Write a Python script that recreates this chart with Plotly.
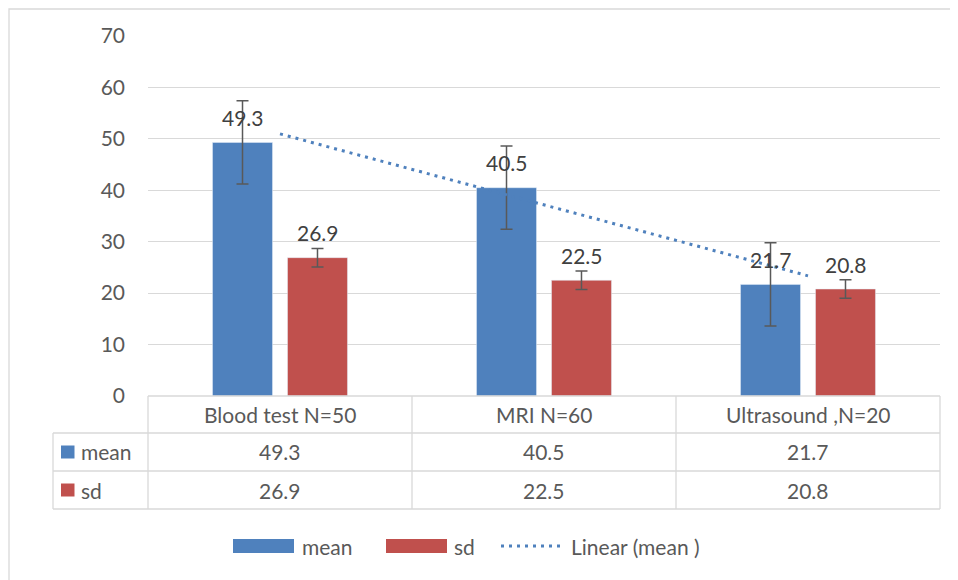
import numpy as np
import plotly.graph_objects as go

categories = ["Blood test N=50", "MRI N=60", "Ultrasound ,N=20"]
mean_vals = [49.3, 40.5, 21.7]
sd_vals = [26.9, 22.5, 20.8]
mean_err = [8.1, 8.1, 8.1]
sd_err = [1.8, 1.8, 1.8]
series_names = ["mean", "sd"]
trend_name = "Linear (mean )"
y_ticks = [0, 10, 20, 30, 40, 50, 60, 70]

BLUE = "#4F81BD"
RED = "#C0504D"
GRID = "#D9D9D9"
TXT = "#595959"
LBL = "#404040"
FONT = "Lato"
FS = 21

# the page has an 8px body margin; lay out in screen pixels and compensate
OFF = 8
W, H = 958 - OFF, 580 - OFF
SL, SR, ST, SB = 148, 940, 36, 396      # plot area in screen pixels
L, T = SL - OFF, ST - OFF
R = W - (SR - OFF)
B = H - (SB - OFF)
PW, PH = SR - SL, SB - ST


def X(p):
    return (p - SL) / PW


def Y(p):
    return (SB - p) / PH


# linear trendline of mean series (least squares, like Excel)
xi = np.arange(1, len(mean_vals) + 1)
coef = np.polyfit(xi, mean_vals, 1)
trend = list(np.polyval(coef, xi))

fig = go.Figure()
fig.add_trace(go.Bar(
    x=categories, y=mean_vals, name=series_names[0], marker_color=BLUE,
    error_y=dict(type="data", array=mean_err, color=TXT, thickness=1.5, width=6),
))
fig.add_trace(go.Bar(
    x=categories, y=sd_vals, name=series_names[1], marker_color=RED,
    error_y=dict(type="data", array=sd_err, color=TXT, thickness=1.5, width=6),
))
fig.add_trace(go.Scatter(
    x=categories, y=trend, name=trend_name, mode="lines",
    line=dict(color=BLUE, width=3, dash="3px,5px"),
))

shapes = []
annotations = []

# data labels
for vals, dx in ((mean_vals, -37.5), (sd_vals, 37.5)):
    for c, v in zip(categories, vals):
        annotations.append(dict(
            x=c, y=v, xref="x", yref="y", text=f"{v}", showarrow=False,
            xshift=dx, yshift=25, yanchor="middle",
            font=dict(family=FONT, size=FS, color=LBL),
        ))

# data table
line_style = dict(color=GRID, width=1.3)
row_y = [396, 433, 471, 509]
col_x = [148, 412, 676, 940]
for i, yy in enumerate(row_y):
    x0 = 148 if i == 0 else 53
    shapes.append(dict(type="line", xref="paper", yref="paper",
                       x0=X(x0), x1=X(940), y0=Y(yy), y1=Y(yy), line=line_style))
shapes.append(dict(type="line", xref="paper", yref="paper",
                   x0=X(53), x1=X(53), y0=Y(433), y1=Y(509), line=line_style))
for xx in col_x:
    shapes.append(dict(type="line", xref="paper", yref="paper",
                       x0=X(xx), x1=X(xx), y0=Y(396), y1=Y(509), line=line_style))

row_centers = [414.5, 452, 490]
for c in categories:
    annotations.append(dict(x=c, xref="x", y=Y(row_centers[0]), yref="paper",
                            text=c, showarrow=False, yanchor="middle",
                            font=dict(family=FONT, size=FS, color=TXT)))
for r, (vals, col, name) in enumerate(((mean_vals, BLUE, series_names[0]),
                                       (sd_vals, RED, series_names[1]))):
    yc = row_centers[r + 1]
    for c, v in zip(categories, vals):
        annotations.append(dict(x=c, xref="x", y=Y(yc), yref="paper",
                                text=f"{v}", showarrow=False, yanchor="middle",
                                font=dict(family=FONT, size=FS, color=TXT)))
    shapes.append(dict(type="rect", xref="paper", yref="paper",
                       x0=X(61), x1=X(74.5), y0=Y(yc - 6.5), y1=Y(yc + 6.5),
                       fillcolor=col, line=dict(width=0)))
    annotations.append(dict(x=X(79), xref="paper", y=Y(yc), yref="paper",
                            text=name, showarrow=False, xanchor="left", yanchor="middle",
                            font=dict(family=FONT, size=FS, color=TXT)))

# bottom legend
ly = 546
for (x0, x1, tx, col, name) in ((233, 294, 300, BLUE, series_names[0]),
                                (386, 447, 452, RED, series_names[1])):
    shapes.append(dict(type="rect", xref="paper", yref="paper",
                       x0=X(x0), x1=X(x1), y0=Y(ly - 7), y1=Y(ly + 7),
                       fillcolor=col, line=dict(width=0)))
    annotations.append(dict(x=X(tx), xref="paper", y=Y(ly), yref="paper",
                            text=name, showarrow=False, xanchor="left", yanchor="middle",
                            font=dict(family=FONT, size=FS, color=TXT)))
shapes.append(dict(type="line", xref="paper", yref="paper",
                   x0=X(501), x1=X(563), y0=Y(ly), y1=Y(ly),
                   line=dict(color=BLUE, width=3, dash="3px,5px")))
annotations.append(dict(x=X(569), xref="paper", y=Y(ly), yref="paper",
                        text=trend_name, showarrow=False, xanchor="left", yanchor="middle",
                        font=dict(family=FONT, size=FS, color=TXT)))

# outer chart frame
shapes.append(dict(type="rect", xref="paper", yref="paper",
                   x0=X(9), x1=X(990), y0=Y(620), y1=Y(9),
                   line=dict(color=GRID, width=1.3), fillcolor="rgba(0,0,0,0)"))

fig.update_layout(
    width=W, height=H, autosize=False,
    margin=dict(l=L, r=R, t=T, b=B, pad=0),
    paper_bgcolor="white", plot_bgcolor="white",
    barmode="group", bargap=0.432, bargroupgap=0.2,
    showlegend=False,
    font=dict(family=FONT, size=FS, color=TXT),
    xaxis=dict(showticklabels=False, showgrid=False, zeroline=False,
               showline=False, ticks=""),
    yaxis=dict(range=[0, 70], tickvals=y_ticks, showgrid=True, gridcolor=GRID,
               gridwidth=1.3, zeroline=False, showline=False, ticks="",
               ticklabelstandoff=22, tickfont=dict(family=FONT, size=FS, color=TXT)),
    shapes=shapes, annotations=annotations,
)

fig.write_html("out.html")
